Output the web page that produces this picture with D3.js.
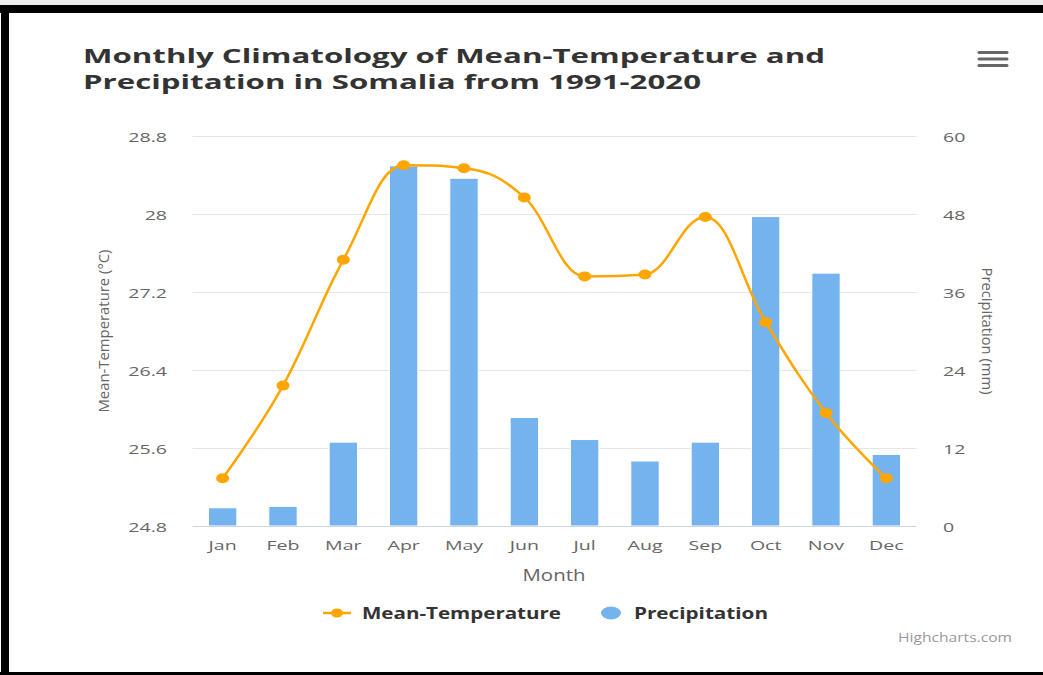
<!DOCTYPE html>
<html>
<head>
<meta charset="utf-8">
<script src="https://cdn.jsdelivr.net/npm/d3@7"></script>
<style>
  body { margin: 0; background: #fff; }
  text { font-family: "Open Sans", sans-serif; }
</style>
</head>
<body>
<svg id="chart" width="1043" height="675"></svg>
<script>
// CHART DATA
var months = ["Jan", "Feb", "Mar", "Apr", "May", "Jun", "Jul", "Aug", "Sep", "Oct", "Nov", "Dec"];
var temperature = [25.29, 26.24, 27.53, 28.50, 28.47, 28.17, 27.36, 27.38, 27.97, 26.89, 25.96, 25.29];
var precipitation = [2.8, 3.0, 12.9, 55.4, 53.5, 16.7, 13.3, 10.0, 12.9, 47.6, 38.9, 11.0];
var tempTicks = [24.8, 25.6, 26.4, 27.2, 28, 28.8];
var precipTicks = [0, 12, 24, 36, 48, 60];

var svg = d3.select("#chart"),
  plot = { left: 192.5, right: 916.5, top: 136, bottom: 526 },
  stretch = 1.45; // the picture is wider than tall, text and markers too

var x = d3.scaleBand().domain(months).range([plot.left, plot.right]);
var yT = d3.scaleLinear().domain([24.8, 28.8]).range([plot.bottom, plot.top]);
var yP = d3.scaleLinear().domain([0, 60]).range([plot.bottom, plot.top]);

// Frame round the screenshot
svg.append("rect").attr("x", 0).attr("y", 0).attr("width", 1043).attr("height", 675).attr("fill", "#fff");
svg.append("rect").attr("x", 0).attr("y", 0).attr("width", 1043).attr("height", 5).attr("fill", "#ececec");
svg.append("rect").attr("x", 0).attr("y", 5).attr("width", 1043).attr("height", 8).attr("fill", "#000");
svg.append("rect").attr("x", 1).attr("y", 5).attr("width", 8).attr("height", 670).attr("fill", "#000");
svg.append("rect").attr("x", 0).attr("y", 672).attr("width", 1043).attr("height", 3).attr("fill", "#000");

// Helper for horizontally stretched text
function stretched(g, str, px, py, size) {
  return g.append("text")
    .attr("transform", "translate(" + px + "," + py + ") scale(" + stretch + ",1)")
    .attr("font-size", size)
    .text(str);
}

// Title (two lines)
var title = svg.append("g").attr("fill", "#333").attr("font-weight", "bold");
title.append("text").attr("x", 83).attr("y", 62.5).attr("font-size", 19.5)
  .attr("textLength", 742).attr("lengthAdjust", "spacingAndGlyphs")
  .text("Monthly Climatology of Mean-Temperature and");
title.append("text").attr("x", 83).attr("y", 89).attr("font-size", 19.5)
  .attr("textLength", 618).attr("lengthAdjust", "spacingAndGlyphs")
  .text("Precipitation in Somalia from 1991-2020");

// Menu icon
svg.append("g").attr("stroke", "#666").attr("stroke-width", 3).attr("stroke-linecap", "round")
  .selectAll("line").data([52.5, 59, 65.5]).enter().append("line")
  .attr("x1", 979).attr("x2", 1007).attr("y1", function(d) { return d; }).attr("y2", function(d) { return d; });

// Grid lines
svg.append("g").selectAll("line").data(tempTicks.slice(1)).enter().append("line")
  .attr("x1", plot.left).attr("x2", plot.right)
  .attr("y1", function(d) { return yT(d) + 0.5; }).attr("y2", function(d) { return yT(d) + 0.5; })
  .attr("stroke", "#e6e6e6");

// Tick labels left (temperature) and right (precipitation)
var leftLabels = svg.append("g").attr("fill", "#666").attr("text-anchor", "end");
tempTicks.forEach(function(d) { stretched(leftLabels, String(d), 167, yT(d) + 5.5, 13.5); });
var rightLabels = svg.append("g").attr("fill", "#666").attr("text-anchor", "start");
precipTicks.forEach(function(d) { stretched(rightLabels, String(d), 943, yP(d) + 5.5, 13.5); });

// Month labels
var xLabels = svg.append("g").attr("fill", "#666").attr("text-anchor", "middle");
months.forEach(function(m) { stretched(xLabels, m, x(m) + x.bandwidth() / 2, 550, 13.5); });

// Axis titles
svg.append("text").attr("fill", "#666").attr("text-anchor", "middle").attr("font-size", 16)
  .attr("x", 554).attr("y", 581).attr("textLength", 63).attr("lengthAdjust", "spacingAndGlyphs")
  .text("Month");
svg.append("text").attr("fill", "#666").attr("text-anchor", "middle").attr("font-size", 15)
  .attr("transform", "translate(109," + (plot.top + plot.bottom) / 2 + ") rotate(-90)")
  .attr("textLength", 163).attr("lengthAdjust", "spacingAndGlyphs")
  .text("Mean-Temperature (°C)");
svg.append("text").attr("fill", "#666").attr("text-anchor", "middle").attr("font-size", 15)
  .attr("transform", "translate(982," + (plot.top + plot.bottom) / 2 + ") rotate(90)")
  .attr("textLength", 127).attr("lengthAdjust", "spacingAndGlyphs")
  .text("Precipitation (mm)");

// Precipitation columns
var barW = x.bandwidth() * 0.47;
svg.append("g").selectAll("rect").data(precipitation).enter().append("rect")
  .attr("x", function(d, i) { return x(months[i]) + (x.bandwidth() - barW) / 2; })
  .attr("y", function(d) { return yP(d); })
  .attr("width", barW)
  .attr("height", function(d) { return yP(0) - yP(d); })
  .attr("fill", "#74b3ee")
  .attr("stroke", "#fff").attr("stroke-width", 1);

// X axis line
svg.append("line").attr("x1", plot.left).attr("x2", plot.right)
  .attr("y1", plot.bottom + 0.5).attr("y2", plot.bottom + 0.5).attr("stroke", "#ccd6eb");

// Highcharts-like spline through the temperature points
function splinePath(pts) {
  var p = d3.path(), sm = 1.5, den = sm + 1, ctrl = [];
  pts.forEach(function(pt, i) {
    if (i === 0 || i === pts.length - 1) { ctrl.push(null); return; }
    var last = pts[i - 1], next = pts[i + 1];
    var lx = (sm * pt[0] + last[0]) / den, ly = (sm * pt[1] + last[1]) / den,
      rx = (sm * pt[0] + next[0]) / den, ry = (sm * pt[1] + next[1]) / den, corr = 0;
    if (rx !== lx) corr = ((ry - ly) * (rx - pt[0])) / (rx - lx) + pt[1] - ry;
    ly += corr; ry += corr;
    if (ly > last[1] && ly > pt[1]) { ly = Math.max(last[1], pt[1]); ry = 2 * pt[1] - ly; }
    else if (ly < last[1] && ly < pt[1]) { ly = Math.min(last[1], pt[1]); ry = 2 * pt[1] - ly; }
    if (ry > next[1] && ry > pt[1]) { ry = Math.max(next[1], pt[1]); ly = 2 * pt[1] - ry; }
    else if (ry < next[1] && ry < pt[1]) { ry = Math.min(next[1], pt[1]); ly = 2 * pt[1] - ry; }
    ctrl.push({ lx: lx, ly: ly, rx: rx, ry: ry });
  });
  p.moveTo(pts[0][0], pts[0][1]);
  for (var i = 1; i < pts.length; i++) {
    var a = ctrl[i - 1], b = ctrl[i];
    p.bezierCurveTo(a ? a.rx : pts[i - 1][0], a ? a.ry : pts[i - 1][1],
      b ? b.lx : pts[i][0], b ? b.ly : pts[i][1], pts[i][0], pts[i][1]);
  }
  return p.toString();
}

var tempPts = temperature.map(function(d, i) { return [x(months[i]) + x.bandwidth() / 2, yT(d)]; });
svg.append("path").attr("d", splinePath(tempPts))
  .attr("fill", "none").attr("stroke", "#ffa500").attr("stroke-width", 2.5);
svg.append("g").selectAll("ellipse").data(tempPts).enter().append("ellipse")
  .attr("cx", function(d) { return d[0]; }).attr("cy", function(d) { return d[1]; })
  .attr("rx", 6.5).attr("ry", 5).attr("fill", "#ffa500");

// Legend
var legend = svg.append("g");
legend.append("line").attr("x1", 323).attr("x2", 351).attr("y1", 613).attr("y2", 613)
  .attr("stroke", "#ffa500").attr("stroke-width", 2.5);
legend.append("ellipse").attr("cx", 337).attr("cy", 613).attr("rx", 6).attr("ry", 4.5).attr("fill", "#ffa500");
legend.append("text").attr("x", 362).attr("y", 619).attr("font-size", 16).attr("font-weight", "bold")
  .attr("fill", "#333").attr("textLength", 199).attr("lengthAdjust", "spacingAndGlyphs")
  .text("Mean-Temperature");
legend.append("ellipse").attr("cx", 611).attr("cy", 613).attr("rx", 10).attr("ry", 6.5).attr("fill", "#74b3ee");
legend.append("text").attr("x", 634).attr("y", 619).attr("font-size", 16).attr("font-weight", "bold")
  .attr("fill", "#333").attr("textLength", 134).attr("lengthAdjust", "spacingAndGlyphs")
  .text("Precipitation");

// Credits
svg.append("text").attr("x", 898).attr("y", 642).attr("font-size", 12).attr("fill", "#999")
  .attr("textLength", 114).attr("lengthAdjust", "spacingAndGlyphs")
  .text("Highcharts.com");
</script>
</body>
</html>
